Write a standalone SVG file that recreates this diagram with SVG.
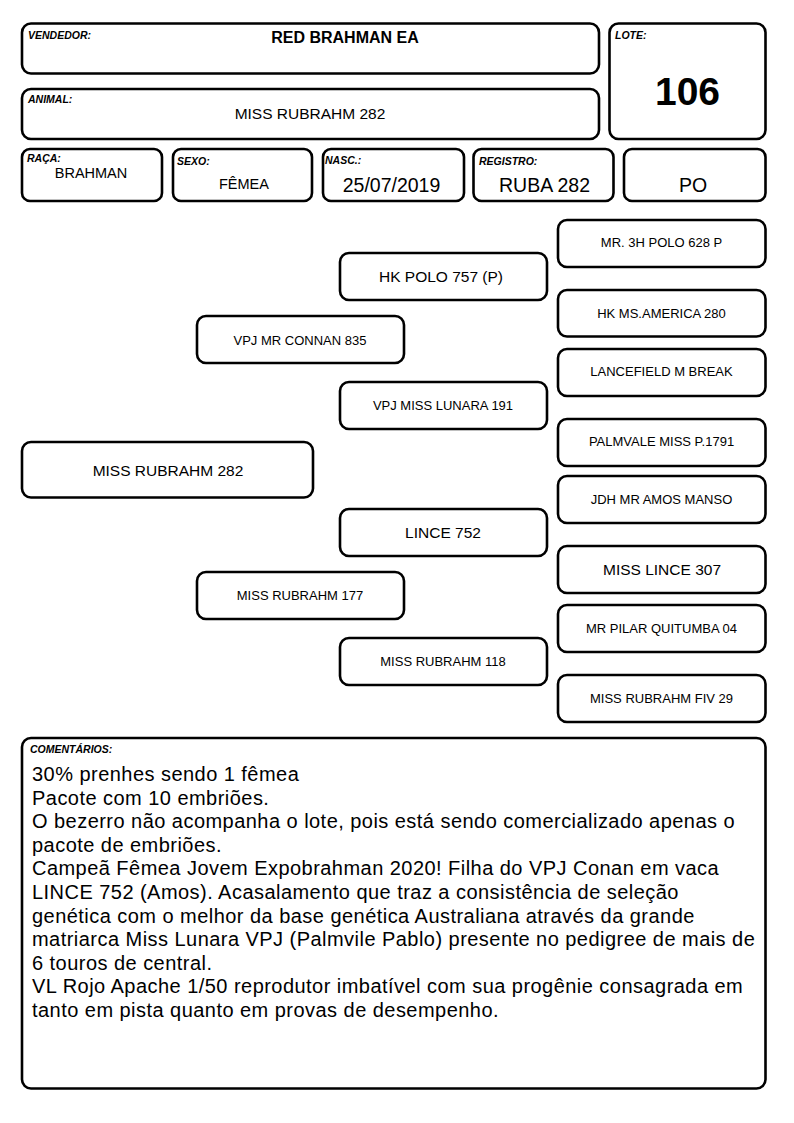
<svg xmlns="http://www.w3.org/2000/svg" width="794" height="1123" viewBox="0 0 794 1123">
<style>
.box{fill:#fff;stroke:#000;stroke-width:2.6}
.lbl{font-family:"Liberation Sans",Arial,sans-serif;font-weight:bold;font-style:italic;font-size:10.5px;fill:#000}
.val{font-family:"Liberation Sans",Arial,sans-serif;fill:#000}
.ped{font-family:"Liberation Sans",Arial,sans-serif;fill:#000;text-anchor:middle;dominant-baseline:central}
.s13{font-size:13px}
.s15{font-size:15.5px}
.cm{font-family:"Liberation Sans",Arial,sans-serif;font-size:20px;letter-spacing:0.46px;fill:#000}
</style>
<rect width="794" height="1123" fill="#fff"/>
<g id="vendedor">
<rect class="box" x="22" y="23.5" width="577" height="50" rx="9"/>
<text class="lbl" x="28" y="39">VENDEDOR:</text>
<text class="val" x="345" y="43" text-anchor="middle" font-size="16" font-weight="bold">RED BRAHMAN EA</text>
</g>
<g id="animal">
<rect class="box" x="22" y="89" width="577" height="50" rx="9"/>
<text class="lbl" x="28" y="103">ANIMAL:</text>
<text class="val" x="310" y="119" text-anchor="middle" font-size="15.5">MISS RUBRAHM 282</text>
</g>
<g id="lote">
<rect class="box" x="609.5" y="23.5" width="156" height="115.5" rx="9"/>
<text class="lbl" x="615" y="38.5">LOTE:</text>
<text class="val" x="687.5" y="105" text-anchor="middle" font-size="39" font-weight="bold">106</text>
</g>
<g id="raca">
<rect class="box" x="22" y="149" width="140" height="52" rx="8"/>
<text class="lbl" x="27" y="162">RAÇA:</text>
<text class="val" x="91" y="177.5" text-anchor="middle" font-size="14.5">BRAHMAN</text>
</g>
<g id="sexo">
<rect class="box" x="173" y="149" width="139" height="52" rx="8"/>
<text class="lbl" x="177" y="165">SEXO:</text>
<text class="val" x="244" y="188.5" text-anchor="middle" font-size="14.5">FÊMEA</text>
</g>
<g id="nasc">
<rect class="box" x="323" y="149" width="141" height="52" rx="8"/>
<text class="lbl" x="325" y="164">NASC.:</text>
<text class="val" x="391.5" y="192" text-anchor="middle" font-size="19.5">25/07/2019</text>
</g>
<g id="registro">
<rect class="box" x="473.5" y="149" width="140" height="52" rx="8"/>
<text class="lbl" x="479" y="165">REGISTRO:</text>
<text class="val" x="544.5" y="192" text-anchor="middle" font-size="19.5">RUBA 282</text>
</g>
<g id="po">
<rect class="box" x="624" y="149" width="141.5" height="52" rx="8"/>
<text class="val" x="693" y="192" text-anchor="middle" font-size="19.5">PO</text>
</g>

<g id="p-root">
<rect class="box" x="22" y="442" width="291" height="55.5" rx="9"/>
<text class="ped s15" x="168" y="470">MISS RUBRAHM 282</text>
</g>
<g id="p-sire">
<rect class="box" x="197" y="316" width="207" height="47" rx="9"/>
<text class="ped s13" x="300" y="340">VPJ MR CONNAN 835</text>
</g>
<g id="p-dam">
<rect class="box" x="197" y="572" width="207" height="47" rx="9"/>
<text class="ped s13" x="300" y="595.5">MISS RUBRAHM 177</text>
</g>
<g id="p-ss">
<rect class="box" x="340" y="253" width="207" height="47" rx="9"/>
<text class="ped s15" x="441" y="276.5">HK POLO 757 (P)</text>
</g>
<g id="p-sd">
<rect class="box" x="340" y="382" width="207" height="47" rx="9"/>
<text class="ped s13" x="443" y="405.5">VPJ MISS LUNARA 191</text>
</g>
<g id="p-ds">
<rect class="box" x="340" y="509" width="207" height="47" rx="9"/>
<text class="ped s15" x="443" y="532.5">LINCE 752</text>
</g>
<g id="p-dd">
<rect class="box" x="340" y="638" width="207" height="47" rx="9"/>
<text class="ped s13" x="443" y="661">MISS RUBRAHM 118</text>
</g>
<g id="p-sss">
<rect class="box" x="558" y="220" width="207.5" height="47" rx="9"/>
<text class="ped s13" x="661.5" y="242">MR. 3H POLO 628 P</text>
</g>
<g id="p-ssd">
<rect class="box" x="558" y="290" width="207.5" height="46.5" rx="9"/>
<text class="ped s13" x="661.5" y="313.5">HK MS.AMERICA 280</text>
</g>
<g id="p-sds">
<rect class="box" x="558" y="349" width="207.5" height="47" rx="9"/>
<text class="ped s13" x="661.5" y="371.5">LANCEFIELD M BREAK</text>
</g>
<g id="p-sdd">
<rect class="box" x="558" y="419" width="207.5" height="47" rx="9"/>
<text class="ped s13" x="661.5" y="441.5">PALMVALE MISS P.1791</text>
</g>
<g id="p-dss">
<rect class="box" x="558" y="476" width="207.5" height="47" rx="9"/>
<text class="ped s13" x="661.5" y="499">JDH MR AMOS MANSO</text>
</g>
<g id="p-dsd">
<rect class="box" x="558" y="546" width="207.5" height="47" rx="9"/>
<text class="ped s15" x="662" y="569">MISS LINCE 307</text>
</g>
<g id="p-dds">
<rect class="box" x="558" y="605" width="207.5" height="47" rx="9"/>
<text class="ped s13" x="661.5" y="628">MR PILAR QUITUMBA 04</text>
</g>
<g id="p-ddd">
<rect class="box" x="558" y="675" width="207.5" height="47" rx="9"/>
<text class="ped s13" x="661.5" y="698">MISS RUBRAHM FIV 29</text>
</g>
<g id="connectors"></g>

<g id="comentarios">
<rect class="box" x="22" y="738" width="743.5" height="350.5" rx="9"/>
<text class="lbl" x="30" y="752.5">COMENTÁRIOS:</text>
<text class="cm" x="32" y="781">30% prenhes sendo 1 fêmea</text>
<text class="cm" x="32" y="804.6">Pacote com 10 embriões.</text>
<text class="cm" x="32" y="828.2">O bezerro não acompanha o lote, pois está sendo comercializado apenas o</text>
<text class="cm" x="32" y="851.8">pacote de embriões.</text>
<text class="cm" x="32" y="875.4">Campeã Fêmea Jovem Expobrahman 2020! Filha do VPJ Conan em vaca</text>
<text class="cm" x="32" y="899">LINCE 752 (Amos). Acasalamento que traz a consistência de seleção</text>
<text class="cm" x="32" y="922.6">genética com o melhor da base genética Australiana através da grande</text>
<text class="cm" x="32" y="946.2">matriarca Miss Lunara VPJ (Palmvile Pablo) presente no pedigree de mais de</text>
<text class="cm" x="32" y="969.8">6 touros de central.</text>
<text class="cm" x="32" y="993.4">VL Rojo Apache 1/50 reprodutor imbatível com sua progênie consagrada em</text>
<text class="cm" x="32" y="1017">tanto em pista quanto em provas de desempenho.</text>
</g>
</svg>
